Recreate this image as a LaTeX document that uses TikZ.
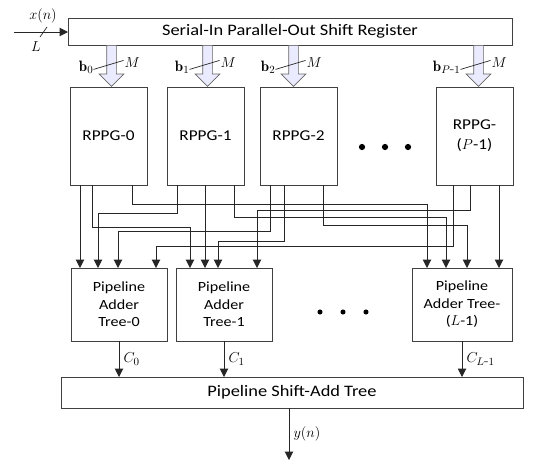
\documentclass[tikz,border=0pt]{standalone}
\usepackage{amsmath}
\usepackage{fontspec}
\setsansfont{Carlito}[FakeStretch=1.15]
\usepackage{tikz}
\usetikzlibrary{shapes.arrows, positioning, arrows.meta, calc}
\tikzset{
	reg/.style={
		draw=black!75,
		line width=1pt,
		outer sep=0pt,
		font=\sffamily\fontsize{16}{18}\selectfont,
		inner sep=0pt
	},
	rppg/.style={
		draw=black!75,
		line width=1pt,
		outer sep=0pt,
		minimum width=77,
		minimum height=98,
		anchor=north west,
		align=center,
		font=\sffamily\fontsize{15}{20}\selectfont
	},
	adder/.style={
		draw=black!75,
		line width=1pt,
		outer sep=0pt,
		minimum width=96,
		minimum height=73,
		anchor=north west,
		align=center,
		font=\sffamily\fontsize{14}{17.5}\selectfont
	},
	bus/.style={
		single arrow,
		draw=black!60,
		fill=blue!8,
		line width=0.7pt,
		shape border rotate=270,
		minimum height=41,
		minimum width=24,
		inner sep=4.5pt,
		single arrow head extend=7.5pt,
		anchor=tail
	},
	wire/.style={
		draw=black!85,
		line width=1pt,
		-{Triangle[length=8.5pt, width=8.5pt]}
	},
	slash/.style={
		draw=black!85,
		line width=0.7pt
	},
	lbl/.style={
		font=\fontsize{15}{17}\selectfont,
		inner sep=1pt
	},
	dots/.style={
		circle,
		fill=black,
		inner sep=2.2pt
	},
}

\begin{document}
\begin{tikzpicture}[x=1pt, y=-1pt]
	\useasboundingbox (0,0) rectangle (534,461);

	% shift register
	\node [reg, minimum width=444, minimum height=27, anchor=north west] (sipo) at (68,18) {Serial-In Parallel-Out Shift Register};
	\coordinate (xin) at (14,32);
	\draw [wire] (xin) -- (xin -| sipo.west);
	\draw [slash] ($(xin)+(26,5)$) -- ++(7,-10);
	\node [lbl] at (43,16) (xlab) {$x(n)$};
	\node [lbl] at (36,47) (llab) {$L$};

	% RPPG blocks
	\node [rppg] (rp0) at (70,87) {RPPG-0};
	\node [rppg, right=20 of rp0.north east, anchor=north west] (rp1) {RPPG-1};
	\node [rppg, right=16 of rp1.north east, anchor=north west] (rp2) {RPPG-2};
	\node [rppg, right=99 of rp2.north east, anchor=north west] (rp3) {RPPG-\\($P$-1)};
	\node [dots] at (362,147) (d1) {};
	\node [dots] at (385,147) (d2) {};
	\node [dots] at (408,147) (d3) {};

	% buses into RPPG blocks
	\foreach \b/\dx/\sub in {rp0/3/0, rp1/2/1, rp2/-5/2, rp3/4/{P\mbox{-}1}} {
		\node [bus] (bus\b) at ($(\b.north |- sipo.south)+(\dx,0)$) {};
		\draw [slash] ($(bus\b.center)+(-18,6)$) -- ++(30,-9);
		\node [lbl, anchor=east] at ($(bus\b.center)+(-17,4)$) {$\mathbf{b}_{\sub}$};
		\node [lbl, anchor=west] at ($(bus\b.center)+(12,-1)$) {$M$};
	}

	% pipeline adder trees
	\node [adder] (pat0) at (71,268) {Pipeline\\Adder\\Tree-0};
	\node [adder, right=9 of pat0.north east, anchor=north west] (pat1) {Pipeline\\Adder\\Tree-1};
	\node [adder, minimum width=100] (pat2) at (412,268) {Pipeline\\Adder Tree-\\($L$-1)};
	\node [dots, inner sep=1.8pt] at (320,312) (e1) {};
	\node [dots, inner sep=1.8pt] at (343,312) (e2) {};
	\node [dots, inner sep=1.8pt] at (366,312) (e3) {};

	% RPPG-0 outputs
	\draw [wire] ([xshift=10]rp0.south west) -- ([xshift=9]pat0.north west);
	\draw [wire] ([xshift=22]rp0.south west) -- ++(0,42) -| ([xshift=14]pat1.north west);
	\draw [wire] ([xshift=62]rp0.south west) -- ++(0,19) -| ([xshift=15]pat2.north west);

	% RPPG-1 outputs
	\draw [wire] ([xshift=10]rp1.south west) -- ++(0,28) -| ([xshift=27]pat0.north west);
	\draw [wire] ([xshift=38]rp1.south west) -- ([xshift=29]pat1.north west);
	\draw [wire] ([xshift=67]rp1.south west) -- ++(0,32) -| ([xshift=34]pat2.north west);

	% RPPG-2 outputs
	\draw [wire] ([xshift=10]rp2.south west) -- ++(0,46) -| ([xshift=47]pat0.north west);
	\draw [wire] ([xshift=24]rp2.south west) -- ++(0,56) -| ([xshift=42]pat1.north west);
	\draw [wire] ([xshift=63]rp2.south west) -- ++(0,40) -| ([xshift=55]pat2.north west);

	% RPPG-(P-1) outputs
	\draw [wire] ([xshift=17]rp3.south west) -- ++(0,61) -| ([xshift=85]pat0.north west);
	\draw [wire] ([xshift=34]rp3.south west) -- ++(0,25) -| ([xshift=81]pat1.north west);
	\draw [wire] ([xshift=63]rp3.south west) -- ([xshift=87]pat2.north west);

	% shift-add tree
	\node [reg, minimum width=462, minimum height=31, anchor=north west] (add) at (61,377) {Pipeline Shift-Add Tree};
	\draw [wire] (pat0.south) -- (pat0.south |- add.north) node [lbl, midway, right=3] {$C_0$};
	\draw [wire] (pat1.south) -- (pat1.south |- add.north) node [lbl, midway, right=3] {$C_1$};
	\draw [wire] (pat2.south) -- (pat2.south |- add.north) node [lbl, midway, right=3] {$C_{L\mbox{-}1}$};

	% output
	\coordinate (yout) at ($(add.south)+(-3,52)$);
	\draw [wire] ($(add.south)+(-3,0)$) -- (yout) node [lbl, midway, right=3] {$y(n)$};
\end{tikzpicture}
\end{document}
